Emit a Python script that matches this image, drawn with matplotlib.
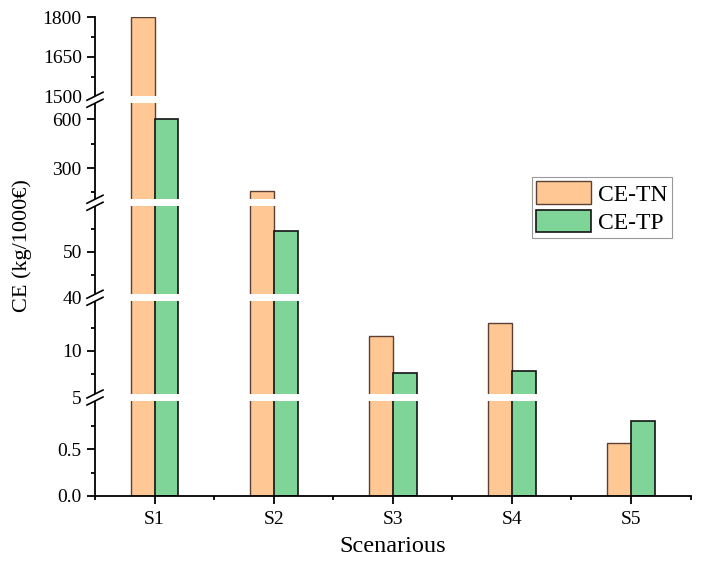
import numpy as np
import matplotlib
matplotlib.use("Agg")
import matplotlib.pyplot as plt
from matplotlib.patches import Patch, Rectangle
from matplotlib.lines import Line2D


scenarios = ["S1", "S2", "S3", "S4", "S5"]
ce_tn = [1800, 158, 11.6, 13.0, 0.57]
ce_tp = [600, 54.5, 7.55, 7.85, 0.80]

major_ticks = [0, 0.5, 5, 10, 40, 50, 300, 600, 1500, 1650, 1800]
major_labels = ["0.0", "0.5", "5", "10", "40", "50", "300", "600",
                "1500", "1650", "1800"]
minor_ticks = [0.25, 0.75, 7.5, 12.5, 45, 55, 150, 450, 1575, 1725]

# broken axis: data value knots -> pixel height above the x axis
data_knots = [0, 1.05, 5, 15.7, 40, 60.5, 90, 720, 1489, 1800]
pos_knots = [0, 98, 99, 198, 198.5, 292.5, 294, 396, 396.5, 479]
break_pos = [98.5, 198.25, 293.25, 396.25]

plt.rcParams["font.family"] = ["Liberation Serif", "DejaVu Serif"]
plt.rcParams["font.size"] = 14

AX_W, AX_H = 595.6, 479.0

fig = plt.figure(figsize=(7.02, 5.62), dpi=100)
ax = fig.add_axes([95 / 702, 66 / 562, AX_W / 702, AX_H / 562])


def forward(v):
    return np.interp(v, data_knots, pos_knots)


def inverse(p):
    return np.interp(p, pos_knots, data_knots)


ax.set_yscale("function", functions=(forward, inverse))

x = np.arange(1, len(scenarios) + 1)
w = 0.2
ax.bar(x - w / 2, ce_tn, w, color="#FFC794", edgecolor="#5c4033",
       linewidth=1.0, label="CE-TN")
ax.bar(x + w / 2, ce_tp, w, color="#7ED597", edgecolor="#141414",
       linewidth=1.2, label="CE-TP")

ax.set_xlim(0.5, len(scenarios) + 0.5)
ax.set_ylim(0, 1800)
ax.set_xticks(x)
ax.set_xticklabels(scenarios)
ax.set_xticks(np.arange(0.5, len(scenarios) + 1, 1.0), minor=True)
ax.set_yticks(major_ticks)
ax.set_yticklabels(major_labels)
ax.set_yticks(minor_ticks, minor=True)

ax.spines["top"].set_visible(False)
ax.spines["right"].set_visible(False)
for s in ("left", "bottom"):
    ax.spines[s].set_linewidth(1.3)
ax.tick_params(which="major", length=5.5, width=1.3, pad=4)
ax.tick_params(which="minor", length=3, width=1.3)
ax.tick_params(axis="x", which="major", pad=5)

ax.set_xlabel("Scenarious", fontsize=17.5, labelpad=6)
ax.set_ylabel("CE (kg/1000€)", fontsize=16)
ax.yaxis.set_label_coords(-0.106, 0.522)

# white gaps across the bars and the "//" marks on the axis
for bp in break_pos:
    yc = bp / AX_H
    ax.add_patch(Rectangle((-0.02, yc - 3.5 / AX_H), 1.02, 7 / AX_H,
                           transform=ax.transAxes, facecolor="white",
                           edgecolor="none", zorder=5, clip_on=False))
    for off in (-3.5, 3.5):
        ax.add_line(Line2D([-8 / AX_W, 8 / AX_W],
                           [(bp + off - 4) / AX_H, (bp + off + 4) / AX_H],
                           transform=ax.transAxes, color="black",
                           linewidth=1.2, zorder=6, clip_on=False))

handles = [Patch(facecolor="#FFC794", edgecolor="#5c4033", linewidth=1.0),
           Patch(facecolor="#7ED597", edgecolor="#141414", linewidth=1.2)]
leg = ax.legend(handles, ["CE-TN", "CE-TP"], loc="upper left",
                bbox_to_anchor=(0.734, 0.666), fancybox=False, fontsize=17,
                handlelength=2.3, handleheight=1.1, labelspacing=0.17,
                handletextpad=0.3, borderpad=0.18, borderaxespad=0)
leg.get_frame().set_edgecolor("#808080")
leg.get_frame().set_linewidth(0.8)
leg.set_zorder(7)

fig.savefig("out.png", dpi=100)
